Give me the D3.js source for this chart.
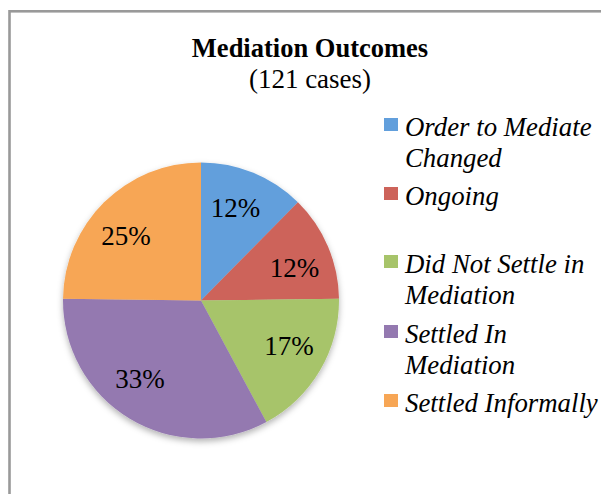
<!DOCTYPE html>
<html>
<head>
<meta charset="utf-8">
<script src="https://cdn.jsdelivr.net/npm/d3@7"></script>
<style>
  body { margin: 0; background: #fff; }
</style>
</head>
<body>
<div id="chart"></div>
<script>
// data (121 cases)
var categories = ["Order to Mediate Changed", "Ongoing", "Did Not Settle in Mediation", "Settled In Mediation", "Settled Informally"];
var counts = [15, 15, 21, 40, 30];
var colors = ["#629fdc", "#cd635a", "#a7c46a", "#9479b0", "#f7a655"];
// legend text is wrapped the way the original does it
var legendLines = [["Order to Mediate", "Changed"], ["Ongoing"], ["Did Not Settle in", "Mediation"], ["Settled In", "Mediation"], ["Settled Informally"]];

var width = 601, height = 494;
var serif = "Liberation Serif";

var svg = d3.select("#chart").append("svg")
    .attr("width", width)
    .attr("height", height);

//drop shadow under the pie
var defs = svg.append("defs");
var filt = defs.append("filter").attr("id", "shadow")
    .attr("x", "-20%").attr("y", "-20%").attr("width", "140%").attr("height", "140%");
filt.append("feDropShadow")
    .attr("dx", 0).attr("dy", 3)
    .attr("stdDeviation", 3)
    .attr("flood-color", "#000")
    .attr("flood-opacity", 0.3);

//chart area border (runs off right and bottom)
svg.append("rect")
    .attr("x", 9.5).attr("y", 11.3)
    .attr("width", 620).attr("height", 520)
    .attr("fill", "none")
    .attr("stroke", "#999")
    .attr("stroke-width", 2.6);

//title
svg.append("text")
    .attr("x", 310).attr("y", 57)
    .attr("text-anchor", "middle")
    .attr("font-family", serif)
    .attr("font-size", 26.5)
    .attr("font-weight", "bold")
    .text("Mediation Outcomes");

svg.append("text")
    .attr("x", 310).attr("y", 88)
    .attr("text-anchor", "middle")
    .attr("font-family", serif)
    .attr("font-size", 27)
    .text("(121 cases)");

//pie
var total = d3.sum(counts);
var radius = 138;
var cx = 201, cy = 300.5;

var pie = d3.pie().sort(null).value(function(d) { return d; });
var arc = d3.arc().innerRadius(0).outerRadius(radius);

var g = svg.append("g")
    .attr("transform", "translate(" + cx + "," + cy + ")");

var slices = pie(counts);

g.append("g")
    .attr("filter", "url(#shadow)")
    .selectAll("path")
    .data(slices)
    .enter().append("path")
    .attr("d", arc)
    .attr("fill", function(d, i) { return colors[i]; });

//excel's "best fit" labels sit a little off the slice middle
var labelR = 99;
var labelNudge = [-1.9, 3.9, -3.2, 6.8, -4.7]; // degrees
function labelPos(d, i) {
    var a = (d.startAngle + d.endAngle) / 2 + labelNudge[i] * Math.PI / 180;
    return [labelR * Math.sin(a), -labelR * Math.cos(a)];
}

var pct = d3.format(".0%");
g.selectAll("text.lbl")
    .data(slices)
    .enter().append("text")
    .attr("class", "lbl")
    .attr("transform", function(d, i) { return "translate(" + labelPos(d, i) + ")"; })
    .attr("dy", "0.35em")
    .attr("text-anchor", "middle")
    .attr("font-family", serif)
    .attr("font-size", 27)
    .attr("fill", "#000")
    .text(function(d) { return pct(d.value / total); });

//legend
var legendTop = [118, 187, 255, 325, 394];
var lineH = 31;

var leg = svg.append("g").attr("class", "legend")
    .selectAll("g")
    .data(categories)
    .enter().append("g")
    .attr("transform", function(d, i) { return "translate(384," + legendTop[i] + ")"; });

leg.append("rect")
    .attr("width", 14).attr("height", 13)
    .attr("fill", function(d, i) { return colors[i]; });

leg.append("text")
    .attr("font-family", serif)
    .attr("font-size", 26.8)
    .attr("font-style", "italic")
    .each(function(d, i) {
        var t = d3.select(this);
        legendLines[i].forEach(function(line, j) {
            t.append("tspan")
                .attr("x", 21)
                .attr("y", 17.5 + j * lineH)
                .text(line);
        });
    });
</script>
</body>
</html>
